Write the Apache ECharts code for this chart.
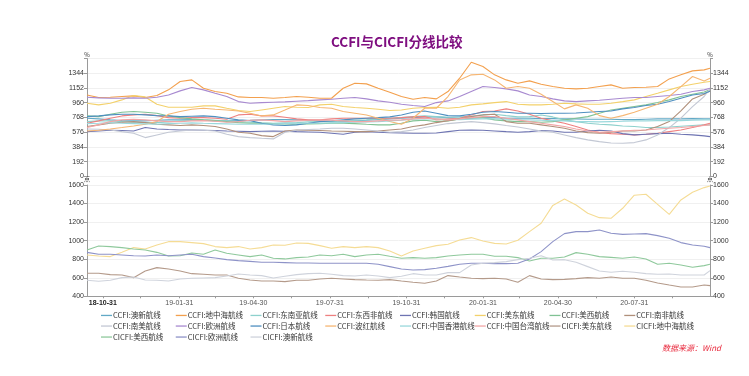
<!DOCTYPE html>
<html><head><meta charset="utf-8">
<script src="https://cdn.jsdelivr.net/npm/echarts@6/dist/echarts.min.js"></script>
<style>html,body{margin:0;padding:0;background:#fff}#c{width:749px;height:376px}</style>
</head><body><div id="c"></div>
<script>
// ---------- DATA ----------
const dates = ['2018-10-12','2018-10-26','2018-11-09','2018-11-23','2018-12-07','2018-12-21',
'2019-01-04','2019-01-18','2019-02-01','2019-02-15','2019-03-01','2019-03-15','2019-03-29','2019-04-12','2019-04-26','2019-05-10','2019-05-24','2019-06-07','2019-06-21','2019-07-05','2019-07-19','2019-08-02','2019-08-16','2019-08-30','2019-09-13','2019-09-27','2019-10-11','2019-10-25','2019-11-08','2019-11-22','2019-12-06','2019-12-20',
'2020-01-03','2020-01-17','2020-01-31','2020-02-14','2020-02-28','2020-03-13','2020-03-27','2020-04-10','2020-04-24','2020-05-08','2020-05-22','2020-06-05','2020-06-19','2020-07-03','2020-07-17','2020-07-31','2020-08-14','2020-08-28','2020-09-11','2020-09-25','2020-10-09','2020-10-23','2020-10-30'];

const xLabelDates = ['2018-10-31','2019-01-31','2019-04-30','2019-07-31','2019-10-31','2020-01-31','2020-04-30','2020-07-31'];
const xTickDates = ['2018-10-31','2018-12-15','2019-01-31','2019-03-15','2019-04-30','2019-06-15','2019-07-31','2019-09-15','2019-10-31','2019-12-15','2020-01-31','2020-03-15','2020-04-30','2020-06-15','2020-07-31','2020-09-15'];

const topTicks = [0,192,384,576,768,960,1152,1344];
const bottomTicks = [400,600,800,1000,1200,1400,1600];

const ccfiAoxin = [758,749,736,727,723,723,731,736,736,740,731,723,723,727,731,736,740,740,736,731,723,714,714,723,731,740,749,758,766,775,775,766,758,758,766,766,758,758,758,753,753,749,749,745,745,745,740,740,745,749,749,749,753,749,749];
const ccfiDizhonghai = [1062,1028,1032,1041,1049,1028,1054,1128,1237,1258,1149,1106,1084,1036,1028,1028,1019,1028,1041,1032,1019,1019,1149,1215,1206,1149,1097,1041,1006,1028,1010,1106,1280,1489,1432,1324,1258,1215,1245,1202,1171,1149,1141,1149,1171,1193,1149,1158,1162,1171,1271,1324,1376,1389,1411];
const ccfiDongnanya = [714,723,723,714,705,701,701,710,723,731,736,731,723,714,705,697,692,697,701,710,714,714,723,731,736,749,758,766,779,788,779,771,775,784,801,810,792,775,779,801,775,736,714,692,679,671,657,649,636,636,644,653,662,671,671];
const ccfiDongxifei = [692,723,758,788,801,810,792,766,758,766,766,758,745,801,810,788,788,771,749,736,736,749,758,758,758,758,758,766,775,779,736,749,758,801,845,853,880,853,810,758,723,692,649,605,570,557,549,540,549,562,583,605,636,671,692];
const ccfiHanguo = [583,592,601,597,592,636,618,610,605,605,601,597,592,588,583,588,592,588,583,579,575,562,549,575,583,575,570,566,562,562,566,583,601,605,601,592,583,575,583,597,592,575,575,592,601,592,557,540,549,557,562,549,540,527,518];
const ccfiMeidong = [954,932,954,997,1054,1036,940,901,901,901,919,919,888,858,845,866,888,910,901,897,932,940,910,897,888,875,858,866,888,897,901,888,901,932,945,962,975,940,932,932,940,954,945,940,940,954,975,997,1041,1084,1128,1171,1202,1228,1237];
const ccfiMeixi = [788,779,810,836,845,836,823,788,766,749,736,727,714,701,692,692,688,684,679,684,688,692,692,688,679,671,671,692,723,731,714,723,749,766,766,736,723,714,714,705,714,736,758,779,823,866,888,910,932,962,997,1041,1071,1100,1130];
const ccfiNanfei = [649,671,692,705,714,701,679,671,662,671,662,649,618,575,562,531,518,592,605,601,597,592,588,583,583,592,605,618,649,671,701,727,749,779,801,810,714,692,692,671,649,627,592,570,562,575,592,592,605,649,714,853,1010,1071,1115];
const ccfiNanmei = [618,614,605,583,562,505,540,575,592,605,601,592,549,518,505,496,488,575,601,610,618,627,627,618,605,592,575,583,605,636,662,688,701,714,701,684,662,644,618,592,575,540,505,475,453,435,431,440,475,540,636,758,910,1041,1141];
const ccfiOuzhou = [1032,1023,1019,1019,1023,1019,1032,1062,1115,1158,1128,1084,1041,975,954,962,967,971,980,988,997,1006,1019,1028,1010,984,967,940,923,910,962,984,1041,1106,1171,1158,1141,1115,1062,1041,1010,984,975,984,993,1006,1019,1028,1028,1041,1054,1071,1106,1128,1149];
const ccfiRiben = [779,788,801,810,810,801,792,788,779,784,788,779,758,736,727,692,671,662,671,692,714,723,736,749,758,766,775,801,836,853,823,792,788,810,836,845,836,823,823,819,823,823,827,836,845,853,880,897,923,940,975,1019,1062,1080,1110];
const ccfiBohong = [592,601,618,636,657,679,714,810,845,875,888,875,866,853,823,788,801,866,932,923,897,888,845,823,801,758,714,679,758,888,888,1041,1258,1324,1332,1258,1149,1171,1149,1071,975,880,932,888,792,758,792,836,888,940,1041,1171,1302,1245,1280];
const ccfiXianggang = [688,692,701,692,688,684,679,688,692,697,692,688,684,679,679,679,684,688,692,692,692,697,701,705,710,714,723,731,745,749,749,745,740,745,749,749,745,740,736,731,727,723,714,714,710,714,718,723,723,727,727,727,731,736,736];
const ccfiTaiwan = [636,671,714,736,745,736,723,714,714,723,727,718,705,714,731,736,727,714,723,731,736,731,723,714,714,723,731,736,749,758,749,736,749,766,779,779,758,736,714,692,671,649,618,592,575,583,592,601,605,618,627,636,649,662,671];

const cicfiMeidong = [648,648,634,630,601,673,709,695,673,644,637,630,630,594,576,565,565,558,573,573,587,594,587,580,576,573,580,565,551,540,565,623,608,594,591,594,587,551,623,587,580,583,591,601,594,608,594,594,573,544,522,501,501,522,515];
const cicfiDizhonghai = [846,835,828,874,925,910,953,989,989,979,968,936,925,936,910,925,953,950,975,971,946,918,936,925,936,925,889,835,889,918,946,961,1007,1033,997,971,964,1004,1097,1187,1380,1449,1385,1295,1248,1241,1349,1490,1500,1392,1284,1439,1521,1572,1590];
const cicfiMeixi = [900,943,936,925,910,900,874,835,838,867,853,900,864,846,828,846,810,803,817,824,846,838,853,828,846,853,831,810,817,810,817,835,846,853,853,831,831,817,781,810,810,824,871,853,828,820,810,824,803,745,756,738,713,731,745];
const cicfiOuzhou = [874,853,853,846,838,835,846,838,846,853,828,813,795,785,777,767,767,763,759,759,756,756,756,756,756,745,720,695,684,688,702,723,745,756,756,752,752,756,803,882,989,1076,1097,1097,1115,1079,1068,1072,1076,1054,1025,979,953,939,925];
const cicfiAoxin = [573,562,573,601,608,576,573,565,587,594,598,601,619,641,630,623,598,616,634,644,648,637,623,619,630,619,601,616,644,630,630,655,655,738,756,763,774,795,810,838,792,795,767,720,673,659,670,659,644,637,641,630,630,630,677];

const topSeries = [
  ['CCFI:澳新航线', ccfiAoxin], ['CCFI:地中海航线', ccfiDizhonghai], ['CCFI:东南亚航线', ccfiDongnanya],
  ['CCFI:东西非航线', ccfiDongxifei], ['CCFI:韩国航线', ccfiHanguo], ['CCFI:美东航线', ccfiMeidong],
  ['CCFI:美西航线', ccfiMeixi], ['CCFI:南非航线', ccfiNanfei], ['CCFI:南美航线', ccfiNanmei],
  ['CCFI:欧洲航线', ccfiOuzhou], ['CCFI:日本航线', ccfiRiben], ['CCFI:波红航线', ccfiBohong],
  ['CCFI:中国香港航线', ccfiXianggang], ['CCFI:中国台湾航线', ccfiTaiwan]
];
const bottomSeries = [
  ['CICFI:美东航线', cicfiMeidong], ['CICFI:地中海航线', cicfiDizhonghai], ['CICFI:美西航线', cicfiMeixi],
  ['CICFI:欧洲航线', cicfiOuzhou], ['CICFI:澳新航线', cicfiAoxin]
];

// ---------- STYLE ----------
const topColors = ['#62a9c6','#f3a04e','#8ed1cd','#ee8080','#6e74b2','#f3d16b','#80c294','#b08f7a','#c3c8d4','#a88ad0','#4f8fc0','#f6b673','#9ad8dc','#f2a6a6'];
const bottomColors = ['#b49a8a','#f5dc95','#8fc99c','#8e93c8','#cfd3dc'];

const ts = s => { const p = s.split('-').map(Number); return new Date(p[0], p[1]-1, p[2]).getTime(); };
const pad = n => (n < 10 ? '0' : '') + n;
const xMin = ts(dates[0]), xMax = ts(dates[dates.length-1]);
const labelVals = xLabelDates.map(ts);
const tickVals = xTickDates.map(ts);

const chart = echarts.init(document.getElementById('c'), null, {renderer:'canvas'});
const FONT = 'Liberation Sans, Arial, sans-serif';
const CJK = '"Noto Sans CJK SC", sans-serif';

function yAxis(grid, pos, min, max, interval, ticks, name, split) {
  return {
    type:'value', gridIndex:grid, position:pos, min:min, max:max, interval:interval,
    name:name, nameLocation:'end', nameGap:1,
    nameTextStyle:{fontSize:6, color:'#333', fontFamily:CJK},
    axisLine:{show:true, lineStyle:{color:'#9a9a9a', width:1}},
    axisTick:{show:true, length:3, lineStyle:{color:'#9a9a9a'}},
    axisLabel:{fontSize:7, color:'#333', margin:3, fontFamily:FONT, customValues:ticks, formatter: v => String(v)},
    splitLine:{show:split, lineStyle:{color:'#f0f0f0', width:1}}
  };
}

const series = [];
topSeries.forEach((s, k) => series.push({
  name:s[0], type:'line', xAxisIndex:0, yAxisIndex:0, symbol:'none',
  lineStyle:{width:1.1, color:topColors[k]}, itemStyle:{color:topColors[k]},
  data: dates.map((d,i)=>[ts(d), s[1][i]])
}));
bottomSeries.forEach((s, k) => series.push({
  name:s[0], type:'line', xAxisIndex:1, yAxisIndex:2, symbol:'none',
  lineStyle:{width:1.1, color:bottomColors[k]}, itemStyle:{color:bottomColors[k]},
  data: dates.map((d,i)=>[ts(d), s[1][i]])
}));

const allNames = topSeries.map(s=>s[0]).concat(bottomSeries.map(s=>s[0]));
const rowsY = [316.7, 327.3, 338.3];
const legends = allNames.map((n, idx) => ({
  data:[n], left: 101 + 74.75 * (idx % 8), top: rowsY[Math.floor(idx/8)] - 5,
  padding:0, itemWidth:11, itemHeight:1.3, itemGap:0, selectedMode:false,
  icon:'rect',
  textStyle:{fontSize:7.5, color:'#333', fontFamily:CJK, padding:[0,0,0,-4]}
}));

chart.setOption({
  animation:false,
  backgroundColor:'#ffffff',
  grid:[
    {left:87, right:39, top:58.6, height:117.7},
    {left:87, right:39, top:185, height:111.3}
  ],
  xAxis:[
    {type:'value', gridIndex:0, min:xMin, max:xMax, axisLine:{show:false}, axisTick:{show:false}, axisLabel:{show:false}, splitLine:{show:false}},
    {type:'value', gridIndex:1, min:xMin, max:xMax,
     axisLine:{show:true, onZero:false, lineStyle:{color:'#9a9a9a'}},
     axisTick:{show:true, customValues:tickVals, length:2, lineStyle:{color:'#9a9a9a'}},
     axisLabel:{customValues:labelVals, fontSize:7, color:'#555', margin:3, fontFamily:FONT,
       formatter: v => { const d = new Date(v); const s = String(d.getFullYear()).slice(2)+'-'+pad(d.getMonth()+1)+'-'+pad(d.getDate()); return v === labelVals[0] ? '{b|'+s+'}' : s; },
       rich:{b:{fontSize:7, fontWeight:'bold', color:'#222', fontFamily:FONT}}},
     splitLine:{show:false}}
  ],
  yAxis:[
    yAxis(0,'left',0,1536,192,topTicks,'%',true),
    yAxis(0,'right',0,1536,192,topTicks,'%',false),
    yAxis(1,'left',400,1600,200,bottomTicks,'点',true),
    yAxis(1,'right',400,1600,200,bottomTicks,'点',false)
  ],
  legend: legends,
  graphic:[
    {type:'text', left:331, top:35, style:{text:'CCFI与CICFI分线比较', fill:'#7f0f80', font:'bold 13.5px "Noto Sans CJK SC", sans-serif'}},
    {type:'text', left:662, top:344, style:{text:'数据来源：Wind', fill:'#e8283c', font:'italic 8px "Noto Sans CJK SC", sans-serif'}}
  ],
  series: series
});
</script></body></html>
